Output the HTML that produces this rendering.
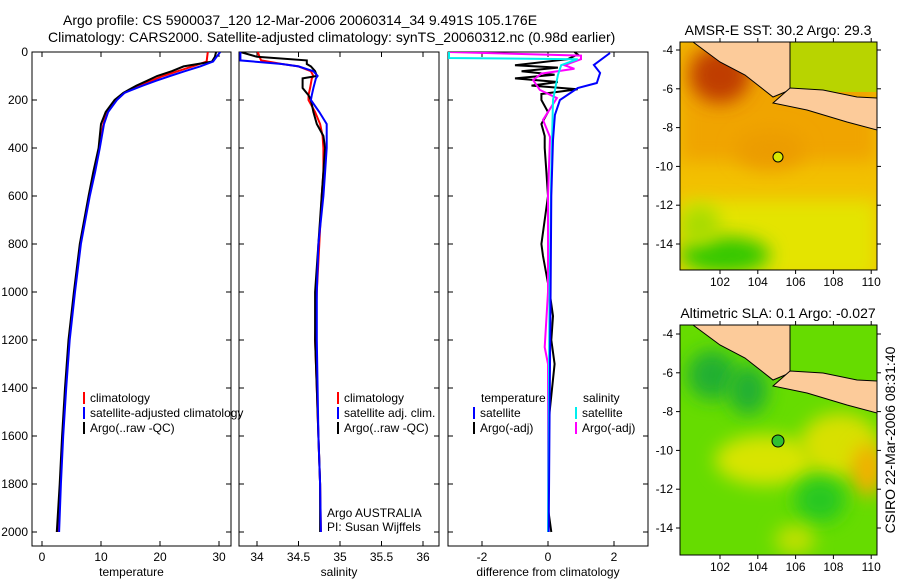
<!DOCTYPE html>
<html><head><meta charset="utf-8">
<style>
html,body{margin:0;padding:0;background:#fff;}
svg{display:block;font-family:"Liberation Sans",sans-serif;}
text{font-size:12px;fill:#000;}
.big{font-size:14px;}
</style></head>
<body>
<svg id="c" width="900" height="580" viewBox="0 0 900 580" xmlns="http://www.w3.org/2000/svg">
<defs>
<filter id="bl" x="-50%" y="-50%" width="200%" height="200%"><feGaussianBlur stdDeviation="9"/></filter>
<clipPath id="cp1"><rect x="32" y="52" width="199" height="494"/></clipPath>
<clipPath id="cp2"><rect x="239" y="52" width="200" height="494"/></clipPath>
<clipPath id="cp3"><rect x="448" y="52" width="200" height="494"/></clipPath>
<clipPath id="cm1"><rect x="680" y="42" width="197" height="228"/></clipPath>
<clipPath id="cm2"><rect x="680" y="325" width="197" height="230"/></clipPath>
</defs>
<text class="big" x="63" y="25">Argo profile: CS 5900037_120 12-Mar-2006 20060314_34 9.491S 105.176E</text>
<text class="big" x="48" y="42">Climatology: CARS2000. Satellite-adjusted climatology: synTS_20060312.nc (0.98d earlier)</text>

<!-- SST map -->
<g clip-path="url(#cm1)">
<rect x="680" y="42" width="197" height="228" fill="#f2c000"/>
<rect x="680" y="42" width="197" height="120" fill="#f0a400" filter="url(#bl)"/>
<ellipse cx="720" cy="75" rx="30" ry="28" fill="#c03c00" filter="url(#bl)"/>
<ellipse cx="770" cy="150" rx="35" ry="20" fill="#ec9c00" filter="url(#bl)"/>
<rect x="680" y="200" width="197" height="80" fill="#e4e400" filter="url(#bl)"/>
<ellipse cx="725" cy="255" rx="45" ry="18" fill="#30c800" filter="url(#bl)"/>
<ellipse cx="700" cy="225" rx="20" ry="20" fill="#a8dc00" filter="url(#bl)"/>
<rect x="790" y="42" width="87" height="50" fill="#b8d400"/>
<path d="M693,42 L720,62 L745,75 L773,97 L790,90 L790,42Z" fill="#fccb9a" stroke="#000" stroke-width="1"/>
<path d="M773,103 L790,88 L823,90 L857,97 L877,98 L877,130 L847,122 L807,110Z" fill="#fccb9a" stroke="#000" stroke-width="1"/>
<circle cx="778" cy="157" r="5" fill="#d8e800" stroke="#000"/>
</g>
<rect x="680" y="42" width="197" height="228" fill="none" stroke="#000"/>
<text class="big" x="778" y="35" text-anchor="middle">AMSR-E SST: 30.2 Argo: 29.3</text>

<!-- SLA map -->
<g clip-path="url(#cm2)">
<rect x="680" y="325" width="197" height="230" fill="#66dc00"/>
<ellipse cx="712" cy="375" rx="25" ry="25" fill="#20b030" filter="url(#bl)"/>
<ellipse cx="748" cy="390" rx="20" ry="25" fill="#20b030" filter="url(#bl)"/>
<ellipse cx="765" cy="460" rx="50" ry="25" fill="#d8e400" filter="url(#bl)"/>
<ellipse cx="840" cy="445" rx="40" ry="32" fill="#d8e000" filter="url(#bl)"/>
<ellipse cx="868" cy="470" rx="16" ry="26" fill="#f4b000" filter="url(#bl)"/>
<ellipse cx="820" cy="500" rx="25" ry="22" fill="#28c820" filter="url(#bl)"/>
<ellipse cx="795" cy="540" rx="20" ry="15" fill="#c0e000" filter="url(#bl)"/>
<path d="M693,325 L720,345 L745,358 L773,380 L790,373 L790,325Z" fill="#fccb9a" stroke="#000" stroke-width="1"/>
<path d="M773,386 L790,371 L823,373 L857,380 L877,381 L877,413 L847,405 L807,393Z" fill="#fccb9a" stroke="#000" stroke-width="1"/>
<circle cx="778" cy="441" r="6" fill="#30c030" stroke="#000"/>
</g>
<rect x="680" y="325" width="197" height="230" fill="none" stroke="#000"/>
<text class="big" x="778" y="318" text-anchor="middle">Altimetric SLA: 0.1 Argo: -0.027</text>
<text class="big" transform="translate(895,440) rotate(-90)" text-anchor="middle">CSIRO 22-Mar-2006 08:31:40</text>
</svg>
<script>
// ---- data (depth in m) ----
const tempDepth = [0,20,40,60,80,100,120,140,170,200,250,300,400,500,600,800,1000,1200,1400,1600,1800,2000];
const tempClim  = [28.1,28.0,27.9,25.5,23.0,20.5,18.5,16.6,14.0,12.6,11.0,10.4,9.7,8.8,8.0,6.5,5.5,4.6,4.0,3.5,3.1,2.7];
const tempSat   = [30.2,29.6,29.0,26.8,24.2,21.7,19.3,17.1,14.0,12.7,11.2,10.5,9.8,9.0,8.1,6.6,5.6,4.7,4.1,3.6,3.2,2.9];
const tempArgo  = [29.5,29.3,28.8,24.0,22.0,19.5,17.8,16.0,13.8,12.3,10.8,10.0,9.6,8.7,7.9,6.4,5.4,4.5,3.9,3.4,3.0,2.5];
const salDepth  = [0,20,35,50,60,80,100,110,150,180,200,250,300,350,400,500,600,800,1000,1200,1400,1600,1800,2000];
const salClim   = [34.01,34.03,34.05,34.3,34.5,34.65,34.68,34.66,34.64,34.62,34.62,34.7,34.76,34.79,34.8,34.8,34.78,34.75,34.72,34.7,34.72,34.74,34.76,34.77];
const salSat    = [33.8,33.8,33.8,34.3,34.5,34.68,34.73,34.71,34.68,34.66,34.65,34.75,34.84,34.84,34.84,34.82,34.8,34.74,34.72,34.72,34.73,34.74,34.76,34.77];
const salArgo   = [33.8,34.0,34.6,34.6,34.65,34.7,34.72,34.55,34.55,34.62,34.65,34.68,34.72,34.8,34.82,34.8,34.78,34.74,34.7,34.7,34.72,34.74,34.76,34.76];
const difTDepth = [0,10,30,55,65,80,95,110,125,140,155,175,200,250,300,350,400,500,600,800,850,1000,1100,1200,1300,1500,1700,1900,2000];
const difTArgo  = [0.8,0.9,0.6,-1.0,0.3,-0.8,0.2,-1.0,0.3,-0.5,0.9,-0.2,-0.2,0.0,-0.2,-0.1,-0.1,-0.05,0.0,-0.2,-0.15,0.05,0.15,0.1,0.2,0.05,0.0,0.0,0.1];
const difTSatD  = [4,54,87,129,150,200,262,367,600,1000,1500,2000];
const difTSat   = [1.88,1.39,1.58,1.48,0.9,0.36,0.21,0.15,0.1,0.08,0.05,0.02];
const difSDepth = [0,15,30,55,70,90,117,158,192,283,354,600,1000,1230,1300,1600,2000];
const difSArgo  = [-3,1.0,1.0,0.5,0.8,-0.2,-0.45,-0.25,0.27,-0.15,0.06,0.0,0.0,-0.1,0.0,0.0,0.0];
const difSSatD  = [0,25,30,55,96,200,500,1000,1500,2000];
const difSSat   = [-3,-3,0.9,0.4,0.3,0.15,0.1,0.05,0.02,0.0];
const depthTicks = [0,200,400,600,800,1000,1200,1400,1600,1800,2000];
const tTicks = [0,10,20,30];
const sTicks = [34,34.5,35,35.5,36];
const sTickLabels = ['34','34.5','35','35.5','36'];
const dTicks = [-2,0,2];
const lonTicks = [102,104,106,108,110];
const latTicks = [-4,-6,-8,-10,-12,-14];

const svg = document.getElementById('c');
const NS = 'http://www.w3.org/2000/svg';
function mk(tag, attrs, parent){const e=document.createElementNS(NS,tag);for(const k in attrs)e.setAttribute(k,attrs[k]);(parent||svg).appendChild(e);return e;}
const yD = d => 52 + d*0.24;
const panels = [
 {x0:32,w:199,clip:'cp1',sx:v=>42+v*5.9,ticks:tTicks,labels:tTicks.map(String),xl:'temperature',name:'temperature-panel'},
 {x0:239,w:200,clip:'cp2',sx:v=>257+(v-34)*83,ticks:sTicks,labels:sTickLabels,xl:'salinity',name:'salinity-panel'},
 {x0:448,w:200,clip:'cp3',sx:v=>548+v*33,ticks:dTicks,labels:dTicks.map(String),xl:'difference from climatology',name:'difference-panel'}
];
panels.forEach((p,i)=>{
  const g=mk('g',{});
  
  
  const r=mk('rect',{x:p.x0,y:52,width:p.w,height:494,fill:'none',stroke:'#000'},g);
  
  
  depthTicks.forEach(d=>{
    mk('line',{x1:p.x0,x2:p.x0+5,y1:yD(d),y2:yD(d),stroke:'#000'},g);
    mk('line',{x1:p.x0+p.w-5,x2:p.x0+p.w,y1:yD(d),y2:yD(d),stroke:'#000'},g);
    if(i===0){const t=mk('text',{x:28,y:yD(d)+4,'text-anchor':'end'},g);t.textContent=d;
      
      }
  });
  p.ticks.forEach((v,j)=>{
    const x=p.sx(v);
    mk('line',{x1:x,x2:x,y1:546,y2:541,stroke:'#000'},g);
    mk('line',{x1:x,x2:x,y1:52,y2:57,stroke:'#000'},g);
    const t=mk('text',{x:x,y:561,'text-anchor':'middle'},g);t.textContent=p.labels[j];
    
    
  });
  const xl=mk('text',{x:p.x0+p.w/2,y:576,'text-anchor':'middle'},g);xl.textContent=p.xl;
  
  
});
function line(depths,vals,p,color,name,w){
  const pts=depths.map((d,k)=>p.sx(vals[k]).toFixed(1)+','+yD(d).toFixed(1)).join(' ');
  const e=mk('polyline',{points:pts,fill:'none',stroke:color,'stroke-width':w||2,'clip-path':'url(#'+p.clip+')'});
  
  
}
line(tempDepth,tempClim,panels[0],'#f00','temp-climatology-line');
line(tempDepth,tempArgo,panels[0],'#000','temp-argo-line');
line(tempDepth,tempSat,panels[0],'#00f','temp-satellite-line');
line(salDepth,salClim,panels[1],'#f00','sal-climatology-line');
line(salDepth,salArgo,panels[1],'#000','sal-argo-line');
line(salDepth,salSat,panels[1],'#00f','sal-satellite-line');
line(difTDepth,difTArgo,panels[2],'#000','temp-diff-argo-line');
line(difSDepth,difSArgo,panels[2],'#f0f','sal-diff-argo-line');
line(difSSatD,difSSat,panels[2],'#0ee','sal-diff-satellite-line');
line(difTSatD,difTSat,panels[2],'#00f','temp-diff-satellite-line');

function legend(x,y,items){
  items.forEach((it,k)=>{
    const yy=y+k*15;
    mk('line',{x1:x,x2:x,y1:yy-10,y2:yy+2,stroke:it[1],'stroke-width':2});
    const t=mk('text',{x:x+6,y:yy});t.textContent=it[0];
    
    
  });
}
legend(84,402,[['climatology','#f00'],['satellite-adjusted climatology','#00f'],['Argo(..raw -QC)','#000']]);
legend(338,402,[['climatology','#f00'],['satellite adj. clim.','#00f'],['Argo(..raw -QC)','#000']]);
legend(474,417,[['satellite','#00f'],['Argo(-adj)','#000']]);
legend(576,417,[['satellite','#0ee'],['Argo(-adj)','#f0f']]);
[['temperature',481,402],['salinity',583,402],['Argo AUSTRALIA',327,517],['PI: Susan Wijffels',327,531]].forEach(a=>{
  const t=mk('text',{x:a[1],y:a[2]});t.textContent=a[0];
  
  
});
// map axes
[[42,270],[325,555]].forEach(m=>{
  const top=m[0],bot=m[1];
  const yLat=la=>(m[0]===42?50:334)+(-4-la)*19.4;
  lonTicks.forEach(lo=>{const x=720+(lo-102)*18.9;
    mk('line',{x1:x,x2:x,y1:top,y2:top-4,stroke:'#000'});
    mk('line',{x1:x,x2:x,y1:bot,y2:bot+4,stroke:'#000'});
    const t=mk('text',{x:x,y:bot+16,'text-anchor':'middle'});t.textContent=lo;
    
    });
  latTicks.forEach(la=>{const y=yLat(la);
    mk('line',{x1:676,x2:680,y1:y,y2:y,stroke:'#000'});
    mk('line',{x1:877,x2:881,y1:y,y2:y,stroke:'#000'});
    const t=mk('text',{x:673,y:y+4,'text-anchor':'end'});t.textContent=la;
    
    });
});
</script>
</body></html>
